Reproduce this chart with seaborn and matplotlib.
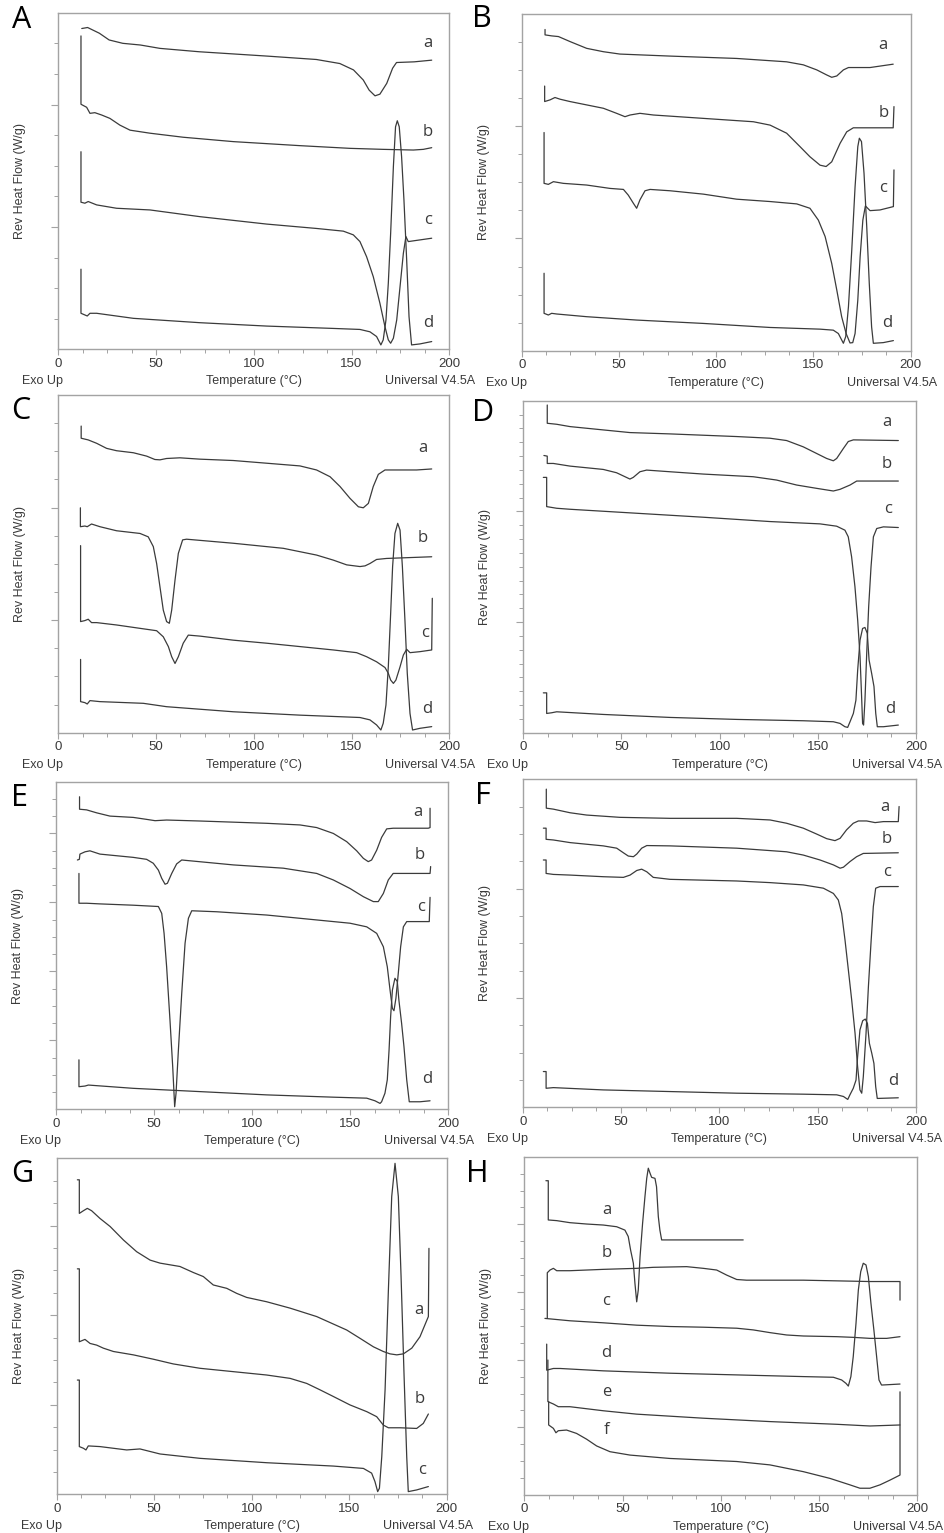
"""Eight-panel DSC figure: reversing heat flow vs. temperature (traces a-f)."""

import matplotlib
matplotlib.use("Agg")
import matplotlib.pyplot as plt
import numpy as np
import seaborn as sns

sns.set_theme(style="white")
plt.rcParams["font.family"] = ["Liberation Sans", "DejaVu Sans"]

FIG_W, FIG_H = 945, 1533
LINE_COLOR = "#3b3b3b"
FRAME_COLOR = "#a3a3a3"
TEXT_COLOR = "#3a3a3a"
LETTER_FONT = ["Open Sans", "DejaVu Sans"]

# ---- traces: temperature (deg C) and heat flow (arbitrary units, 0-100 of axis) ----
A_a_T = [12, 15, 21, 26, 33, 42, 52, 72, 107, 132, 144, 151, 156, 159, 162, 164.5, 168, 171, 173, 182, 191]
A_a_V = [95.3, 95.6, 93.9, 91.9, 90.9, 90.4, 89.4, 88.4, 87.1, 86.1, 84.9, 83, 80, 77, 75.3, 75.8, 79, 83.5, 85.2, 85.4, 85.9]
A_b_T = [11.6, 11.6, 14.5, 16.2, 18.7, 22.2, 26.4, 31.5, 36.7, 46.9, 63.9, 89.5, 123.6, 149.2, 166.2, 181.6, 186.7, 191]
A_b_V = [93.1, 72.8, 71.9, 70.1, 70.3, 69.6, 68.6, 66.6, 65.1, 64.2, 63, 61.7, 60.5, 59.7, 59.4, 59.2, 59.4, 59.9]
A_c_T = [11.6, 11.6, 13.6, 15.3, 19.6, 29.8, 46.9, 72.5, 106.6, 132.1, 145.8, 150.9, 154.3, 157.7, 161.1, 164.5,
         167.1, 168.8, 170, 171.4, 173.1, 174.8, 176.5, 177.8, 179, 185, 191]
A_c_V = [58.7, 43.7, 43.4, 43.9, 42.9, 41.9, 41.4, 39.4, 37.2, 35.9, 35.1, 34, 32, 27.5, 21.6, 13.7,
         6.7, 2.8, 1.8, 3.3, 8.7, 18.6, 28.5, 33.5, 32, 32.5, 33]
A_d_T = [11.6, 11.6, 13.6, 14.8, 16.2, 19.6, 38.4, 72.5, 106.6, 140.7, 154.3, 159.4, 162.8, 165, 166.2, 167.6,
         168.8, 170, 171.4, 172.5, 173.4, 174.4, 175.6, 176.8, 178.2, 179.4, 180.7, 185, 191]
A_d_V = [23.8, 10.7, 10.2, 9.9, 10.7, 10.7, 9.2, 7.9, 6.9, 6.2, 5.9, 5.2, 3.8, 1.3, 2.8, 8.7,
         19.6, 34.5, 54.3, 66.1, 67.9, 66.1, 57.2, 44.4, 26.5, 9.7, 1.3, 1.6, 2.3]

B_a_T = [12, 12, 15.4, 18.9, 24.9, 33.4, 42, 50.5, 76.3, 110.5, 136.2, 144.8, 151.7, 156.8, 159.4, 162, 165.4, 168, 179.1, 191]
B_a_V = [95.4, 93.8, 93.5, 93.3, 91.8, 89.8, 88.8, 88.1, 87.5, 86.8, 85.8, 84.9, 83.4, 81.9, 81.2, 81.6, 83.4, 84.1, 84.1, 85.1]
B_b_T = [11.8, 11.8, 14.6, 17.1, 19.7, 24.8, 33.4, 42, 48.8, 53.1, 55.7, 60.8, 67.7, 93.4, 119.1, 127.7, 136.2, 143.1,
         148.2, 153.4, 156.5, 159.4, 163.7, 167.1, 170.5, 191, 191.4]
B_b_V = [78.6, 74, 74.5, 75.2, 74.7, 74, 73, 72, 70.5, 69.5, 70, 70.5, 70, 69, 68, 67, 64.6, 60.6,
         57.6, 55.1, 54.7, 56.1, 61.6, 65, 66.2, 66.2, 72.5]
B_c_T = [11.5, 11.5, 13.7, 16.3, 21.4, 33.4, 45.4, 52.3, 54.8, 57.4, 59.1, 60.8, 63.4, 66, 76.3, 93.4, 110.5, 127.7,
         141.4, 148.2, 152.5, 156, 159.4, 162, 164.5, 166.8, 168.8, 170.2, 171.4, 172.8, 174, 175.4, 176.7, 177.9,
         179.1, 184.2, 191.1, 191.4]
B_c_V = [64.8, 49.7, 49.4, 50.2, 49.7, 49.2, 48.2, 47.9, 46.2, 43.8, 42.3, 44.8, 47.5, 47.9, 47.5, 46.5, 45, 44.3,
         43.6, 42.3, 38.8, 33.9, 25.9, 18, 10.1, 5.1, 2.3, 2.4, 5.1, 15, 27.9, 38.8, 43, 42.3,
         41.6, 41.8, 42.8, 53.7]
B_d_T = [11.5, 11.5, 13.7, 15.4, 18, 33.4, 59.1, 93.4, 127.7, 153.4, 160.2, 162.8, 164.5, 165.4, 166.6, 168, 169.7,
         171.4, 172.8, 173.6, 174.7, 176, 177.4, 178.7, 179.9, 180.8, 185.9, 191.1]
B_d_V = [23, 11.1, 10.6, 11.1, 10.9, 10.1, 9.1, 8.1, 6.9, 6.4, 6.1, 5.1, 3.2, 2.2, 4.2, 13.1, 29.9,
         48.7, 60.6, 63.1, 62.1, 52.7, 36.8, 20, 7.1, 2.2, 2.4, 3]

C_a_T = [11.7, 11.7, 15.3, 19.6, 24.7, 29.8, 38.4, 45.2, 49.4, 52, 55.4, 62.2, 72.5, 89.5, 106.6, 123.6, 132.1, 139,
         144.1, 149.2, 153.5, 156, 158.6, 161.1, 163.7, 167.1, 183.3, 191]
C_a_V = [90.8, 87.2, 86.7, 85.7, 84.2, 83.5, 82.9, 81.9, 80.9, 80.8, 81.2, 81.4, 81, 80.6, 79.8, 79, 77.8, 75.8,
         72.9, 69.4, 66.9, 66.6, 67.9, 72.9, 76.5, 77.8, 77.8, 78.1]
C_b_T = [11.3, 11.3, 13.6, 14.8, 17, 21.3, 29.8, 41.8, 46, 48.6, 50.3, 52, 53.7, 55.4, 56.8, 58, 59.7, 61.4, 63.6,
         65.6, 89.5, 115.1, 132.1, 140.7, 147.5, 154.3, 156.9, 159.4, 162.8, 167.9, 191]
C_b_V = [66.6, 61, 61.2, 61, 61.8, 61, 59.8, 59, 58, 55.1, 50.1, 43.2, 36.3, 32.9, 32.4, 36.3, 45.2, 53.1, 57.1,
         57.3, 56.1, 54.6, 52.6, 51.1, 49.7, 49.2, 49.4, 50.1, 51.3, 51.6, 52.1]
C_c_T = [11.4, 11.4, 13.6, 15.3, 17, 19.6, 29.8, 41.8, 50.3, 53.7, 56.3, 58, 59.7, 61.4, 63.9, 66.5, 72.5, 89.5,
         106.6, 123.6, 140.7, 152.6, 157.7, 162.8, 167.1, 168.8, 170, 171.4, 172.7, 174.8, 176.5, 178.2, 179.9,
         185, 191, 191.3]
C_c_V = [55.4, 32.9, 33.2, 33.6, 32.6, 32.6, 31.9, 30.9, 30.2, 28.4, 25.5, 22.5, 20.5, 22.5, 26.5, 28.9, 28.6, 27.4,
         26.5, 25.5, 24.5, 23.7, 22.5, 21, 19.3, 17.6, 15.6, 14.6, 15.6, 19.5, 23, 24.7, 23.7,
         24, 24.5, 39.8]
C_d_T = [11.4, 11.4, 13.6, 14.8, 16.2, 21.3, 43.5, 55.4, 89.5, 123.6, 154.3, 159.4, 162.8, 165, 166.2, 167.6, 168.8,
         170, 171, 172.2, 173.6, 174.8, 176, 177.3, 178.5, 179.9, 181.2, 185, 191]
C_d_V = [21.7, 9.2, 8.9, 8.5, 9.5, 9.2, 8.7, 7.7, 6.2, 5.2, 4.5, 3.8, 2.3, 0.8, 2.8, 8.2, 19.5,
         35.3, 49.2, 59, 62, 60, 49.2, 33.4, 17.6, 5.7, 0.8, 1.3, 1.8]

D_a_T = [12.2, 12.2, 17, 23.8, 40.7, 54.3, 74.7, 108.7, 125.6, 134.1, 142.6, 149.4, 154.5, 157.9, 159.6, 163, 165.5,
         168.1, 191]
D_a_V = [98.7, 93.2, 92.9, 92.2, 91.2, 90.4, 90, 89.2, 88.7, 88, 86.1, 84.1, 82.6, 81.9, 82.6, 85.6, 87.7,
         88.2, 88]
D_b_T = [10.5, 12.2, 12.2, 15.3, 23.8, 40.7, 47.5, 51.8, 54.3, 56, 59.4, 62.8, 74.7, 91.7, 117.1, 129, 139.2, 149.4,
         157.9, 161.3, 166.4, 169.8, 191]
D_b_V = [83.5, 83.3, 81.1, 81.1, 80.3, 79.3, 78.3, 77.1, 76.4, 76.9, 78.6, 79.1, 78.6, 77.9, 77.1, 76.1, 74.6, 73.6,
         72.8, 73.3, 74.6, 75.8, 75.8]
D_c_T = [10.2, 11.9, 11.9, 17, 23.8, 57.7, 91.7, 125.6, 151.1, 159.6, 163.8, 165.5, 167.2, 168.9, 170.3, 171.5,
         172.3, 172.8, 173.3, 174, 174.9, 175.9, 177.1, 178.3, 180, 183.4, 191]
D_c_V = [76.9, 76.9, 68.1, 67.6, 67.3, 66.1, 64.9, 63.6, 62.9, 62.2, 61, 59, 53, 44, 33.9, 22.9,
         10.8, 2.8, 2.3, 9.8, 23.9, 38, 50, 59, 61.5, 62, 61.8]
D_d_T = [10.2, 11.9, 11.9, 14.4, 17, 40.7, 74.7, 108.7, 142.6, 157.9, 161.3, 163.8, 165.2, 166.4, 168.1, 169.4,
         170.3, 171.5, 172.8, 174, 175.2, 176.1, 177.4, 178.6, 179.5, 180.3, 183.4, 191]
D_d_V = [12, 12, 5.8, 6, 6.3, 5.5, 4.6, 4, 3.6, 3.3, 2.8, 1.8, 1.6, 3.3, 5.8, 9.8,
         18.9, 27.9, 31.4, 31.7, 29.9, 21.9, 17.9, 13.9, 5.8, 1.8, 1.8, 2.3]

E_a_T = [12, 12, 15.6, 20.7, 27.5, 39.4, 46.2, 50.5, 56.4, 73.4, 107.4, 124.4, 132.9, 141.4, 148.2, 153.3, 156.7,
         159.2, 160.9, 163.5, 166, 168.6, 171.9, 189.8, 190.7, 190.7]
E_a_V = [95.4, 91.6, 91.4, 90.5, 89.5, 89.1, 88.5, 88.1, 88.3, 88, 87.3, 86.8, 86, 84.2, 81.7, 78.9, 76.6,
         75.6, 76.1, 79.1, 83, 85.6, 85.8, 85.8, 86, 91.9]
E_b_T = [10.9, 11.9, 12.2, 14.8, 17.3, 22.4, 39.4, 46.2, 49.6, 52.2, 53.9, 55.6, 56.8, 59, 61.5, 64.1, 90.4, 115.9,
         132.9, 141.4, 149.9, 156.7, 161.8, 164.3, 166.9, 169.4, 171.9, 180.5, 190.7, 191]
E_b_V = [76.1, 76.3, 77.9, 78.6, 78.9, 77.9, 76.9, 76.3, 75.1, 73, 70.5, 68.7, 69, 72, 74.9, 76.1, 74.6, 73.6,
         72, 70, 67.4, 64.9, 63.4, 63.4, 65.9, 70, 72, 72, 72, 74.1]
E_c_T = [11.7, 11.7, 15.6, 22.4, 39.4, 52.2, 53.9, 55.1, 56.4, 58.1, 59.5, 60.5, 61.2, 62.4, 64.1, 65.8, 67.5, 69.2,
         81.9, 107.4, 132.9, 149.9, 158.4, 163.5, 166.9, 168.9, 170.3, 171.5, 172.3, 173.3, 174.5, 175.7, 177.1,
         178.8, 190.3, 190.7]
E_c_V = [72, 62.9, 62.9, 62.7, 62.3, 61.9, 59.8, 53.7, 43.5, 27.3, 13, 0.8, 4.9, 18.1, 35.4, 50.7, 58.3, 60.6,
         60.3, 59.3, 57.8, 56.8, 55.7, 53.7, 49.6, 43.5, 36.4, 30.8, 30.1, 33.9, 41.5, 49.6, 55.7,
         57.3, 57.3, 64.7]
E_d_T = [11.7, 11.7, 14.8, 16.5, 39.4, 73.4, 107.4, 141.4, 158.4, 162.6, 165.2, 166, 167.7, 168.9, 169.8, 170.6,
         171.5, 172.8, 174, 174.8, 176.2, 177.4, 178.8, 180.1, 185.6, 190.7]
E_d_V = [15.1, 6.9, 7.1, 7.4, 6.4, 5.4, 4.4, 3.7, 3.4, 2.6, 1.8, 2.3, 4.9, 9, 18.1, 28.3,
         36.4, 40, 39, 33.4, 26.2, 19.1, 9, 2.3, 2.3, 2.6]

F_a_T = [12, 12, 15.6, 24.1, 32.5, 49.5, 74.9, 108.8, 125.8, 134.2, 142.7, 149.5, 154.6, 158.8, 161.4, 164.7, 168.1,
         170.7, 174.9, 179.2, 183.4, 191, 191.4]
F_a_V = [97, 91.2, 90.9, 89.8, 89.1, 88.4, 88.1, 88.1, 87.6, 86.6, 85.1, 83.3, 81.9, 81.3, 82, 84.6, 86.6,
         87.3, 87.3, 86.8, 87.1, 87.1, 91.7]
F_b_T = [10.5, 11.9, 11.9, 15.6, 24.1, 41, 47.8, 51.2, 53.7, 56.3, 58, 60.5, 63.1, 74.9, 108.8, 134.2, 142.7, 151.2,
         158, 161.4, 163.1, 166.4, 169.8, 173.2, 191]
F_b_V = [85.1, 85.1, 81.7, 81.5, 80.7, 79.7, 79, 77.6, 76.6, 76.4, 77.2, 79, 79.8, 79.7, 79, 77.9, 76.9, 75.4,
         73.9, 72.9, 73.2, 74.9, 76.4, 77.4, 77.6]
F_c_T = [10.5, 11.9, 11.9, 15.6, 24.1, 41, 51.2, 54.6, 58, 60.5, 63.1, 66.4, 74.9, 108.8, 125.8, 142.7, 152.9, 158,
         160.5, 162.2, 163.9, 165.6, 167.3, 169, 170.3, 171.5, 172.4, 173.2, 174.6, 175.8, 177.1, 178.3, 179.5,
         181.7, 191]
F_c_V = [75.4, 75.4, 71.3, 71, 70.8, 70.3, 70.1, 70.8, 72.2, 72.6, 71.8, 70.1, 69.5, 69, 68.5, 67.8, 66.8, 65.2,
         63.2, 59.1, 51, 41.9, 32.7, 22.6, 12.4, 5.3, 4.3, 9.3, 22.6, 36.8, 50, 61.2, 66.8,
         67.3, 67.3]
F_d_T = [10.5, 11.9, 11.9, 15.6, 41, 74.9, 108.8, 142.7, 159.7, 163.1, 165.3, 166.4, 168.1, 169.5, 170.3, 171.5,
         172.9, 174.2, 175.3, 176.3, 177.5, 178.6, 179.5, 180.3, 191]
F_d_V = [10.9, 10.9, 5.8, 6, 5.3, 4.8, 4.3, 4, 3.8, 3.3, 2.4, 3.8, 5.8, 8.3, 15.4, 23.6,
         26.4, 26.9, 25.6, 19.5, 16.5, 13.4, 6.3, 2.7, 2.9]

G_a_T = [10.6, 11.6, 11.6, 13.7, 15.7, 17.9, 22.2, 27.4, 34.2, 41, 47.9, 53, 63.2, 70.1, 75.2, 80.3, 87.2, 92.3,
         97.4, 107.7, 119.7, 133.3, 148.7, 155.6, 162.4, 167.5, 170.9, 174.4, 177.8, 182.1, 186.3, 190.6, 190.9]
G_a_V = [93.6, 93.6, 83.6, 84.4, 85.1, 84.4, 82.1, 79.7, 75.7, 72.2, 69.7, 68.8, 67.8, 66, 64.8, 62.3, 61.3, 59.8,
         58.6, 57.3, 55.4, 52.9, 48.9, 46.4, 43.9, 42.5, 41.8, 41.5, 41.8, 43.5, 46.9, 52.9, 73.2]
G_b_T = [10.6, 11.6, 11.6, 14.5, 17.1, 20.5, 23.9, 29.1, 39.3, 49.6, 59.8, 73.5, 90.6, 107.7, 119.7, 128.2, 135,
         141.9, 150.4, 159, 164.1, 167.5, 170.1, 176.1, 184.6, 188, 190.6]
G_b_V = [67.1, 67.1, 45.4, 46.1, 44.9, 44.4, 43.5, 42.5, 41.5, 40.2, 38.8, 37.5, 36.5, 35.5, 34.5, 33, 31.1,
         29.1, 26.6, 24.6, 23.1, 20.6, 19.8, 19.8, 19.6, 21.1, 23.9]
G_c_T = [10.6, 11.6, 11.6, 13.7, 15, 16.2, 22.2, 35.9, 42.7, 53, 73.5, 107.7, 141.9, 157.3, 161.5, 163.2, 164.6,
         165.5, 166.7, 168.4, 170.1, 171.8, 173.5, 175.2, 176.6, 178.1, 179.5, 180.3, 184.6, 190.6]
G_c_V = [34, 34, 14.2, 13.7, 13.2, 14.4, 14.2, 13.2, 13.5, 12, 10.7, 9.4, 8.4, 7.7, 6.3, 3.8, 0.8,
         1.8, 11.2, 31.1, 60.8, 88.6, 98.5, 88.6, 64.8, 36, 11.2, 0.8, 1.3, 2.3]

H_a_T = [11, 12.2, 12.2, 16.5, 23.2, 31.7, 40.2, 47, 51.2, 52.9, 54.1, 55.5, 56.3, 57.2, 58, 58.9, 60.2, 61.4, 62.3,
         63.1, 64, 64.8, 66.5, 67.3, 68.2, 69, 69.9, 77.5, 91.1, 111.4]
H_a_V = [92.9, 92.9, 81.3, 81.1, 80.5, 80.1, 79.8, 79.3, 78.3, 76.4, 72.4, 68.5, 62.6, 57.1, 60.6, 70.4, 80.3, 88.2,
         93.6, 96.6, 95.1, 93.9, 93.6, 91.1, 82.3, 78.3, 75.4, 75.4, 75.4, 75.4]
H_b_T = [11.7, 11.7, 13.1, 14.8, 16.5, 23.2, 40.2, 57.2, 65.6, 82.6, 91.1, 97.9, 103, 108.1, 113.1, 142, 175.9,
         191.2, 191.2]
H_b_V = [52.2, 65.7, 66.5, 67, 66.3, 66.3, 66.7, 67, 67.3, 67.5, 67, 66.5, 65, 63.7, 63.5, 63.5, 63.1,
         63.1, 57.6]
H_c_T = [10.5, 23.2, 40.2, 57.2, 74.1, 91.1, 108.1, 116.5, 125, 133.5, 142, 159, 167.4, 175.9, 184.4, 191.2]
H_c_V = [52.2, 51.5, 50.9, 50.2, 49.8, 49.6, 49.3, 48.8, 48, 47.3, 47, 46.8, 46.6, 46.3, 46.3, 46.8]
H_d_T = [11.4, 11.4, 14.8, 18.2, 40.2, 74.1, 108.1, 142, 157.3, 161.5, 163.7, 164.9, 166.2, 167.4, 168.8, 170,
         171.2, 172.5, 173.9, 175.1, 176.4, 177.9, 179.3, 180.5, 181.8, 191.2]
H_d_V = [44.6, 36.9, 37.4, 37.4, 36.7, 36, 35.5, 35, 34.8, 34, 33, 32.2, 35, 40.9, 50.7, 60.6,
         66, 68.5, 68, 64.5, 56.7, 48.8, 40.9, 34, 32.5, 32.8]
H_e_T = [12, 12, 14.8, 17.3, 23.2, 40.2, 57.2, 91.1, 125, 159, 175.9, 191.2]
H_e_V = [39.9, 27.6, 26.9, 26.1, 26.1, 24.9, 23.9, 22.7, 21.7, 20.9, 20.4, 20.7]
H_f_T = [12.4, 12.4, 14.8, 16.1, 17.3, 21.5, 26.6, 31.7, 36.8, 43.6, 53.8, 74.1, 108.1, 125, 142, 155.6, 165.7,
         170.8, 175.9, 181, 186.1, 191.2, 191.2]
H_f_V = [27.6, 20.7, 19.7, 18.4, 19, 19.2, 18.2, 16.5, 14.5, 12.8, 11.8, 10.8, 9.9, 8.9, 6.9, 4.9, 3,
         2, 2, 3, 4.4, 5.9, 30.5]

# ---- curve label positions (temperature, heat flow) ----
LABELS = {
    "A": [("a", 189, 90.9), ("b", 189, 64.7), ("c", 189, 38.4), ("d", 189, 7.7)],
    "B": [("a", 185.6, 90.8), ("b", 186, 70.5), ("c", 185.6, 48.2), ("d", 187.7, 8.1)],
    "C": [("a", 186.4, 84.2), ("b", 186.4, 57.7), ("c", 187.6, 29.4), ("d", 188.8, 6.9)],
    "D": [("a", 185, 93.7), ("b", 185, 80.9), ("c", 185.9, 67.3), ("d", 187.1, 7)],
    "E": [("a", 184.7, 90.8), ("b", 185.2, 77.6), ("c", 185.9, 61.9), ("d", 189.3, 9.2)],
    "F": [("a", 184.2, 91.7), ("b", 185.1, 81.8), ("c", 185.1, 71.8), ("d", 188.5, 8.1)],
    "G": [("a", 185.5, 54.9), ("b", 186, 28.3), ("c", 187.2, 7.2)],
    "H": [("a", 41.9, 84.2), ("b", 41.9, 71.6), ("c", 41.6, 57.4), ("d", 41.6, 42.1),
          ("e", 41.9, 30.5), ("f", 41.6, 19.2)],
}

CURVES = {
    "A": [(A_a_T, A_a_V), (A_b_T, A_b_V), (A_c_T, A_c_V), (A_d_T, A_d_V)],
    "B": [(B_a_T, B_a_V), (B_b_T, B_b_V), (B_c_T, B_c_V), (B_d_T, B_d_V)],
    "C": [(C_a_T, C_a_V), (C_b_T, C_b_V), (C_c_T, C_c_V), (C_d_T, C_d_V)],
    "D": [(D_a_T, D_a_V), (D_b_T, D_b_V), (D_c_T, D_c_V), (D_d_T, D_d_V)],
    "E": [(E_a_T, E_a_V), (E_b_T, E_b_V), (E_c_T, E_c_V), (E_d_T, E_d_V)],
    "F": [(F_a_T, F_a_V), (F_b_T, F_b_V), (F_c_T, F_c_V), (F_d_T, F_d_V)],
    "G": [(G_a_T, G_a_V), (G_b_T, G_b_V), (G_c_T, G_c_V)],
    "H": [(H_a_T, H_a_V), (H_b_T, H_b_V), (H_c_T, H_c_V), (H_d_T, H_d_V), (H_e_T, H_e_V), (H_f_T, H_f_V)],
}

# axes box in pixels (left, top, right, bottom), y-tick step count, major every n
LAYOUT = {
    "A": ((58.3, 12.7, 449.3, 349.3), 11, 4),
    "B": ((521.7, 14, 910.7, 350.7), 12, 4),
    "C": ((58.3, 395, 449.3, 732.7), 12, 4),
    "D": ((523.3, 400.7, 916, 732.7), 24, 8),
    "E": ((56, 781.7, 448.3, 1109.3), 19, 4),
    "F": ((522.7, 779.3, 916, 1107.3), 12, 4),
    "G": ((56.7, 1158.3, 446.7, 1494.3), 15, 4),
    "H": ((524.3, 1156.7, 917.3, 1495), 20, 4),
}

LETTER_POS = {"A": (22, 20), "B": (482, 19), "C": (21, 411), "D": (483, 413),
              "E": (20, 798), "F": (483, 796), "G": (22, 1174), "H": (477, 1174)}


def fig_xy(px, py):
    return px / FIG_W, 1 - py / FIG_H


def draw_panel(fig, key):
    (left, top, right, bottom), n_steps, major_every = LAYOUT[key]
    x0, y1 = fig_xy(left, top)
    x1, y0 = fig_xy(right, bottom)
    ax = fig.add_axes([x0, y0, x1 - x0, y1 - y0])

    for temp, flow in CURVES[key]:
        sns.lineplot(x=temp, y=flow, ax=ax, sort=False, estimator=None,
                     color=LINE_COLOR, linewidth=0.9, legend=False)

    for letter, t, v in LABELS[key]:
        ax.text(t, v, letter, ha="center", va="center", fontsize=12,
                color=TEXT_COLOR, family=LETTER_FONT)

    ax.set_xlim(0, 200)
    ax.set_ylim(0, 100)
    ax.set_xticks([0, 50, 100, 150, 200])
    ax.set_xticks(np.arange(0, 200.1, 12.5), minor=True)
    step = 100 / n_steps
    ticks = np.arange(1, n_steps) * step
    ax.set_yticks(ticks[(np.arange(1, n_steps) % major_every) == 0])
    ax.set_yticks(ticks, minor=True)
    ax.set_yticklabels([])
    ax.set_xlabel("")
    ax.set_ylabel("")
    ax.tick_params(axis="x", which="major", direction="out", length=4, width=0.8,
                   color=FRAME_COLOR, labelsize=9.5, labelcolor=TEXT_COLOR, pad=2, bottom=True)
    ax.tick_params(axis="x", which="minor", direction="out", length=3, width=0.7,
                   color=FRAME_COLOR, bottom=True)
    ax.tick_params(axis="y", which="major", direction="out", length=5, width=0.8,
                   color=FRAME_COLOR, left=True)
    ax.tick_params(axis="y", which="minor", direction="out", length=3, width=0.7,
                   color=FRAME_COLOR, left=True)
    for spine in ax.spines.values():
        spine.set_color(FRAME_COLOR)
        spine.set_linewidth(1.0)
    ax.set_facecolor("white")

    # annotations around the axes, in pixels
    fig.text(*fig_xy(left - 38, (top + bottom) / 2), "Rev Heat Flow (W/g)", rotation=90,
             ha="center", va="center", fontsize=9, color=TEXT_COLOR)
    fig.text(*fig_xy(left - 36, bottom + 32), "Exo Up", ha="left", va="center",
             fontsize=9, color=TEXT_COLOR)
    fig.text(*fig_xy((left + right) / 2, bottom + 32), "Temperature (°C)", ha="center",
             va="center", fontsize=9, color=TEXT_COLOR)
    fig.text(*fig_xy(right + 26, bottom + 32), "Universal V4.5A", ha="right", va="center",
             fontsize=9, color=TEXT_COLOR)
    lx, ly = LETTER_POS[key]
    fig.text(*fig_xy(lx, ly), key, ha="center", va="center", fontsize=22,
             color="black", family=LETTER_FONT)
    return ax


fig = plt.figure(figsize=(FIG_W / 100, FIG_H / 100), dpi=100)
fig.patch.set_facecolor("white")
for panel in "ABCDEFGH":
    draw_panel(fig, panel)

fig.savefig("out.png", dpi=100, facecolor="white")
